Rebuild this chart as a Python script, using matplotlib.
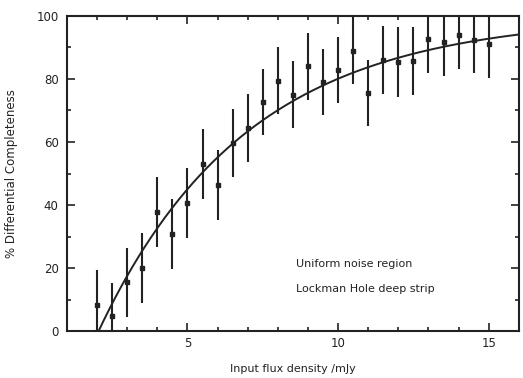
import numpy as np
import matplotlib
matplotlib.use("Agg")
import matplotlib.pyplot as plt
from matplotlib.ticker import MultipleLocator

# Data
flux = [2.0, 2.5, 3.0, 3.5, 4.0, 4.5, 5.0, 5.5, 6.0, 6.5, 7.0, 7.5, 8.0, 8.5,
        9.0, 9.5, 10.0, 10.5, 11.0, 11.5, 12.0, 12.5, 13.0, 13.5, 14.0, 14.5, 15.0]
completeness = [8.3, 4.8, 15.5, 20.0, 37.8, 30.8, 40.6, 53.0, 46.3, 59.6, 64.5,
                72.8, 79.4, 75.0, 84.0, 79.0, 82.9, 89.0, 75.6, 86.0, 85.4, 85.7,
                92.7, 91.7, 94.0, 92.4, 91.0]
errors = [11.0, 10.5, 11.0, 11.0, 11.0, 11.0, 11.0, 11.0, 11.0, 10.8, 10.8,
          10.5, 10.6, 10.6, 10.6, 10.5, 10.5, 10.5, 10.4, 10.8, 11.0, 10.7,
          10.8, 10.7, 11.0, 10.4, 10.7]

# Fitted completeness model parameters
fit_x0 = 2.05
fit_scale = 4.93
fit_xmax = 16.0

annotation_lines = ["Uniform noise region", "Lockman Hole deep strip"]

ink = "#222222"
fig = plt.figure(figsize=(5.23, 3.78), dpi=100)
ax = fig.add_axes([0.128, 0.124, 0.864, 0.834])

ax.errorbar(flux, completeness, yerr=errors, fmt="s", ms=3.2, color=ink,
            ecolor=ink, elinewidth=1.5, capsize=0, mfc=ink, mec=ink)

xf = np.linspace(fit_x0, fit_xmax, 300)
yf = 100 * (1 - np.exp(-(xf - fit_x0) / fit_scale))
ax.plot(xf, yf, color=ink, lw=1.4)

ax.set_xlim(1, 16)
ax.set_ylim(0, 100)
ax.xaxis.set_major_locator(MultipleLocator(5))
ax.xaxis.set_minor_locator(MultipleLocator(1))
ax.yaxis.set_major_locator(MultipleLocator(20))
ax.yaxis.set_minor_locator(MultipleLocator(10))
ax.tick_params(which="both", direction="in", top=True, right=True, colors=ink,
               labelsize=8.5, width=1.2)
ax.tick_params(which="major", length=6)
ax.tick_params(axis="x", which="major", pad=4.5)
ax.tick_params(axis="y", which="major", pad=6)
ax.tick_params(which="minor", length=3)
for s in ax.spines.values():
    s.set_linewidth(1.5)
    s.set_color(ink)

ax.set_xlabel("Input flux density /mJy", fontsize=8, color=ink, labelpad=10)
ax.set_ylabel("% Differential Completeness", fontsize=8.5, color=ink, labelpad=13)

ax.text(8.59, 21.3, annotation_lines[0], fontsize=8, color=ink, va="center")
ax.text(8.59, 13.3, annotation_lines[1], fontsize=8, color=ink, va="center")

fig.savefig("out.png", dpi=100)
